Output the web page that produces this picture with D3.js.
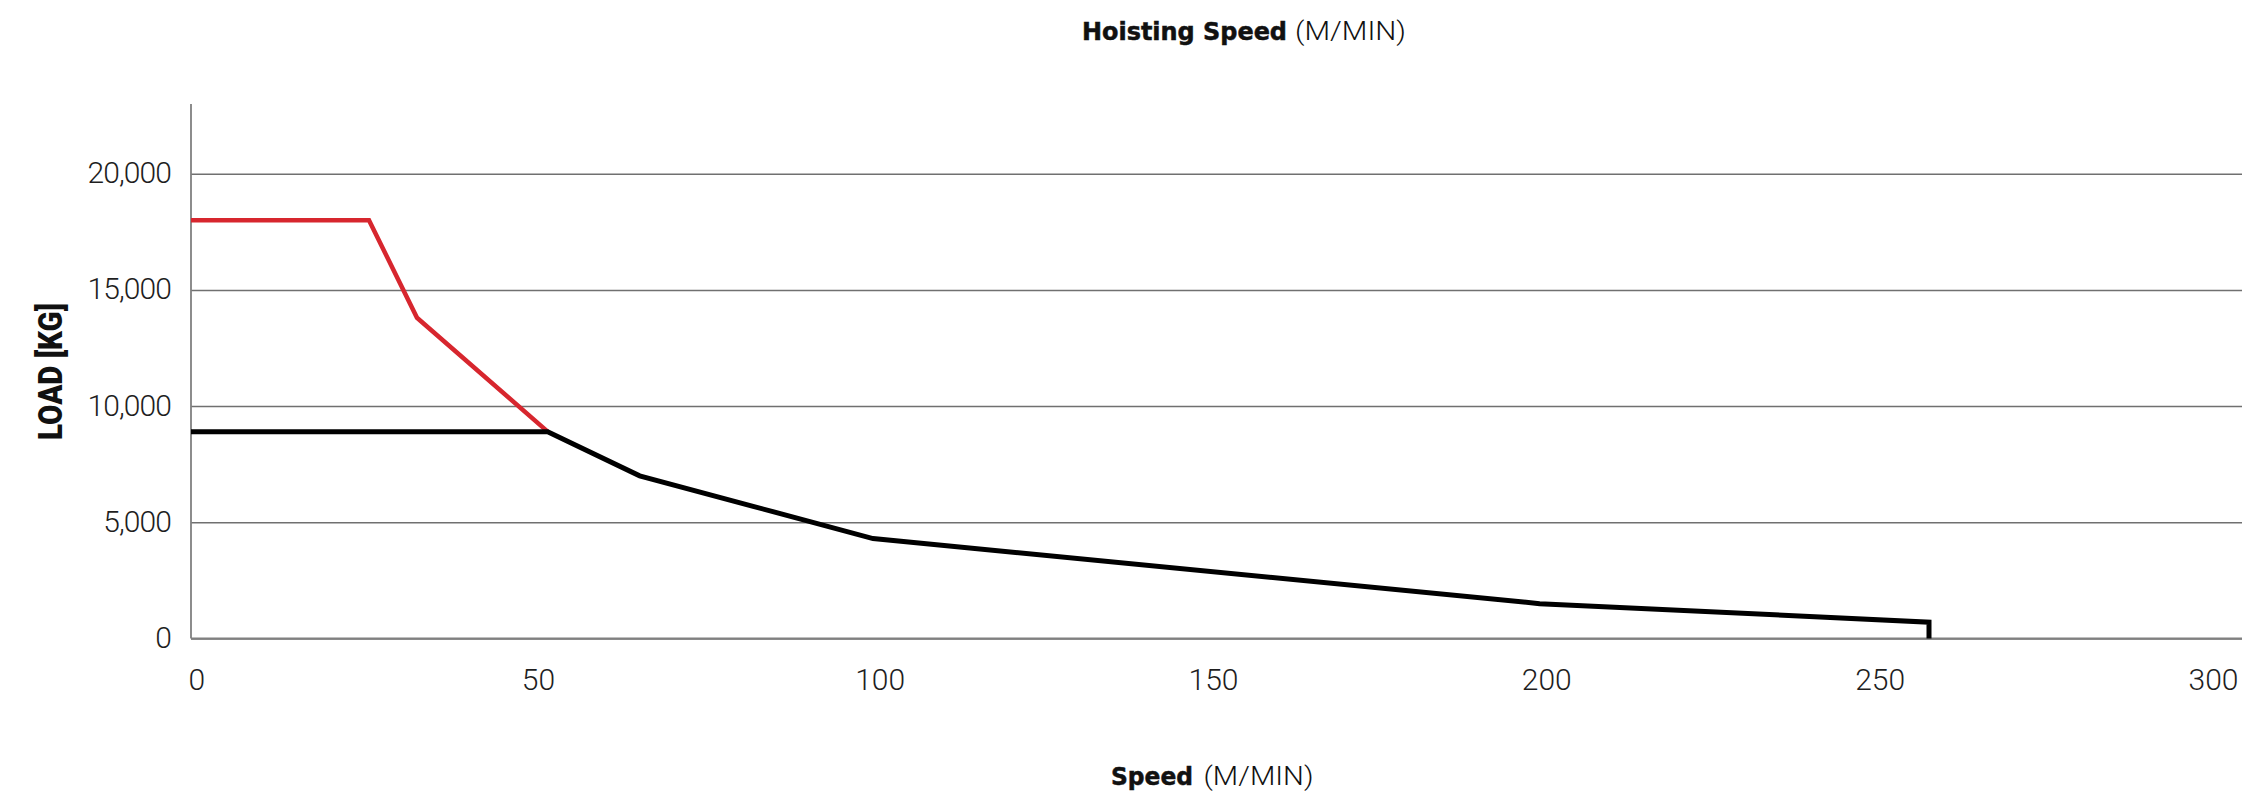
<!DOCTYPE html>
<html>
<head>
<meta charset="utf-8">
<script src="https://cdn.jsdelivr.net/npm/d3@7"></script>
<style>
  html, body { margin: 0; padding: 0; background: #fff; }
  svg { display: block; }
</style>
</head>
<body>
<svg id="chart" width="2263" height="796"></svg>
<script>
// ---- data ----
const xTicks = [0, 50, 100, 150, 200, 250, 300];
const yTicks = [0, 5000, 10000, 15000, 20000];
const redSpeed = [0, 26.7, 33.9, 53.5];
const redLoad = [18000, 18000, 13800, 8900];
const blackSpeed = [0, 53.5, 67.3, 102.3, 202.3, 260.7, 260.7];
const blackLoad = [8900, 8900, 7000, 4300, 1500, 700, 0];
const titleBold = "Hoisting Speed";
const titleLight = "(M/MIN)";
const xTitleBold = "Speed";
const xTitleLight = "(M/MIN)";
const yTitle = "LOAD [KG]";

(function () {
// ---- layout ----
const pLeft = 191, pRight = 2242, pTop = 104, pBottom = 638.5;
const svg = d3.select("#chart");

const x = d3.scaleLinear().domain([0, 300]).range([pLeft, 2191]);
const y = d3.scaleLinear().domain([0, 23000]).range([pBottom, pTop]);

const tickFont = "Roboto, 'Liberation Sans', sans-serif";

// gridlines + y labels
const yAxis = svg.append("g")
  .attr("transform", `translate(${pLeft},0)`)
  .call(d3.axisLeft(y).tickValues(yTicks).tickFormat(d3.format(","))
    .tickSize(-(pRight - pLeft)).tickPadding(20));
yAxis.select(".domain").remove();
yAxis.selectAll(".tick line").attr("stroke", "#707070").attr("stroke-width", 1.5);
yAxis.selectAll(".tick text")
  .attr("font-family", tickFont).attr("font-weight", 300)
  .attr("font-size", 30).attr("fill", "#1e1e1e")
  .attr("letter-spacing", -0.9).attr("dy", "0.3em");

// axis lines
svg.append("line").attr("x1", pLeft).attr("x2", pLeft).attr("y1", pTop).attr("y2", pBottom)
  .attr("stroke", "#808080").attr("stroke-width", 1.8);
svg.append("line").attr("x1", pLeft).attr("x2", pRight).attr("y1", pBottom).attr("y2", pBottom)
  .attr("stroke", "#808080").attr("stroke-width", 1.8);

// x labels
const xAxis = svg.append("g")
  .attr("transform", `translate(0,${pBottom})`)
  .call(d3.axisBottom(x).tickValues(xTicks).tickSize(0).tickFormat(d3.format("d")));
xAxis.select(".domain").remove();
xAxis.selectAll(".tick text")
  .attr("font-family", tickFont).attr("font-weight", 300)
  .attr("font-size", 30).attr("fill", "#1e1e1e")
  .attr("text-anchor", "start").attr("y", 51).attr("dy", 0).attr("dx", -3);

// lines
const line = d3.line().x(d => x(d[0])).y(d => y(d[1]));
const redPts = redSpeed.map((s, i) => [s, redLoad[i]]);
const blackPts = blackSpeed.map((s, i) => [s, blackLoad[i]]);

svg.append("path").datum(redPts).attr("d", line)
  .attr("fill", "none").attr("stroke", "#d7262e").attr("stroke-width", 4.5)
  .attr("stroke-linejoin", "miter").attr("stroke-linecap", "butt");
svg.append("path").datum(blackPts).attr("d", line)
  .attr("fill", "none").attr("stroke", "#000").attr("stroke-width", 5)
  .attr("stroke-linejoin", "miter").attr("stroke-linecap", "butt");

// titles
const boldFont = "'DejaVu Sans', sans-serif";
function boldText(xp, yp, len, txt) {
  svg.append("text").attr("x", xp).attr("y", yp)
    .attr("font-family", boldFont).attr("font-weight", 700).attr("font-size", 24)
    .attr("fill", "#111").attr("stroke", "#111").attr("stroke-width", 0.5)
    .attr("textLength", len).attr("lengthAdjust", "spacingAndGlyphs")
    .text(txt);
}
function lightText(xp, yp, len, txt) {
  svg.append("text").attr("x", xp).attr("y", yp)
    .attr("font-family", tickFont).attr("font-weight", 300).attr("font-size", 26)
    .attr("fill", "#111")
    .attr("textLength", len).attr("lengthAdjust", "spacingAndGlyphs")
    .text(txt);
}
boldText(1082, 40, 205, titleBold);
lightText(1295, 40, 111, titleLight);
boldText(1111, 785, 82, xTitleBold);
lightText(1203.5, 785, 110, xTitleLight);

svg.append("text")
  .attr("transform", "translate(61.5,371.5) rotate(-90)")
  .attr("text-anchor", "middle")
  .attr("font-family", "Roboto, sans-serif").attr("font-weight", 900).attr("font-size", 33)
  .attr("fill", "#111").attr("textLength", 137).attr("lengthAdjust", "spacingAndGlyphs")
  .text(yTitle);
})();
</script>
</body>
</html>
